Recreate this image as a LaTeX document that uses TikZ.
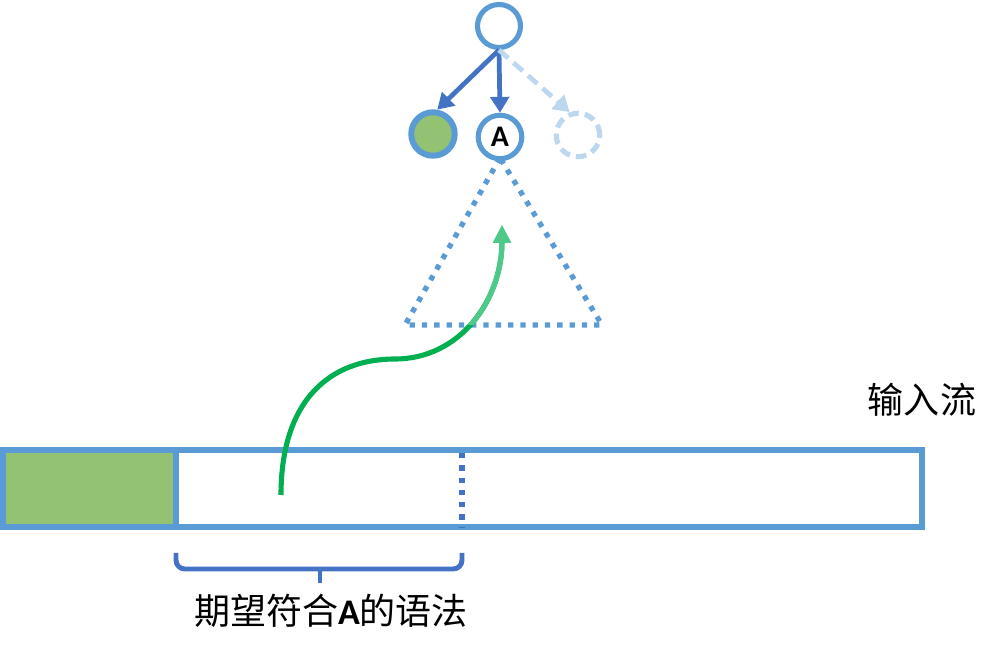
\documentclass[tikz,border=0pt]{standalone}
\usepackage{fontspec}
\setsansfont{Carlito}
\newfontfamily\cjk{Noto Sans CJK SC}
\usetikzlibrary{arrows.meta}
\definecolor{nodeblue}{HTML}{5B9BD5}
\definecolor{edgeblue}{HTML}{4472C4}
\definecolor{paleblue}{HTML}{BDD7EE}
\definecolor{leafgreen}{HTML}{93C272}
\definecolor{flowgreen}{HTML}{00B050}
\definecolor{flowlight}{HTML}{4FC98A}
\begin{document}
\begin{tikzpicture}[x=0.02cm, y=-0.02cm,
    tnode/.style={circle, draw=nodeblue, line width=2.9pt, fill=white, minimum size=0.87cm, inner sep=0pt},
    ghost/.style={draw=paleblue, dash pattern=on 6pt off 3.5pt},
    edge/.style={edgeblue, line width=2.7pt, -{Triangle[length=9pt,width=10.5pt]}},
    dotline/.style={nodeblue, line width=3pt, dash pattern=on 3pt off 4pt},
    streamline/.style={nodeblue, line width=3.4pt},
    flow/.style={line width=2.9pt, -{Triangle[length=10pt,width=9.5pt]}},
    label/.style={font=\cjk\fontsize{20.5}{24}\selectfont}]
    \useasboundingbox (0,0) rectangle (1002,658);

    % Define corners
    \coordinate (tl) at (405,325);
    \coordinate (tr) at (602,325);

    % Subtree of A
    \draw[dotline] (500,158) -- (tl) -- (tr) -- cycle;

    % Tree nodes
    \node[tnode, minimum size=0.86cm] (root) at (499,26) {};
    \node[tnode, fill=leafgreen, line width=3.4pt] (left) at (433,134) {};
    \node[tnode, font=\sffamily\bfseries\fontsize{17}{17}\selectfont] (mid) at (500,137) {A};
    \node[tnode, ghost] (right) at (578,135) {};

    % Tree edges
    \draw[edge] (root.south) -- (left.80);
    \draw[edge] (root.south) -- (mid.north);
    \draw[edge, paleblue, dash pattern=on 7pt off 4pt] (root.south) -- (right.110);

    % Input stream
    \fill[leafgreen] (3,450) rectangle (176,527);
    \draw[streamline] (176,450) -- (176,527);
    \draw[streamline] (3,450) rectangle (922,527);
    \draw[edgeblue, line width=3pt, dash pattern=on 3pt off 4pt] (462,453) -- (462,527);
    \node[label] (stream) at (922,400) {输入流};

    % Brace
    \draw[edgeblue, line width=2.8pt, rounded corners=5pt] (176,553) -- (176,569) -- (462,569) -- (462,553);
    \draw[edgeblue, line width=2.8pt] (320,569) -- (320,583);
    \node[label] (expect) at (331,611) {期望符合{\sffamily\bfseries A}的语法};

    % Flow into A
    \draw[flow, flowgreen] (281,495) .. controls (281,400) and (330,359) .. (395,359)
        .. controls (460,359) and (502,300) .. (502,225);
    \begin{scope}
        \clip (380,150) rectangle (620,325);
        \draw[flow, flowlight] (281,495) .. controls (281,400) and (330,359) .. (395,359)
            .. controls (460,359) and (502,300) .. (502,225);
    \end{scope}
\end{tikzpicture}
\end{document}
